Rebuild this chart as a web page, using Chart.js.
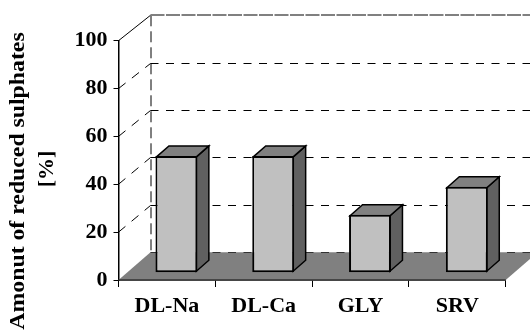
<!DOCTYPE html>
<html>
<head>
<meta charset="utf-8">
<style>
  html, body { margin: 0; padding: 0; background: #fff; }
  canvas { display: block; }
</style>
<script src="https://cdn.jsdelivr.net/npm/chart.js@4/dist/chart.umd.min.js"></script>
</head>
<body>
<canvas id="SulphateChart" width="530" height="331"></canvas>
<script>
const categories = ['DL-Na', 'DL-Ca', 'GLY', 'SRV'];
const reducedValues = [48.8, 48.8, 24.2, 35.9];
const yTicks = [0, 20, 40, 60, 80, 100];
const titleLines = ['Amonut of reduced sulphates', '[%]'];

const font = '"Liberation Serif", "Times New Roman", serif';

// wall depth and bar depth of the fake 3D box
const wallDx = 32, wallDy = -27.8, wallScale = 0.99;
const barDx = 12.5, barDy = -11;
const barShiftX = 9.5, barShiftY = -7.3;

function poly(ctx, pts, fill, stroke, lw) {
    ctx.beginPath();
    pts.forEach(function (p, i) { i ? ctx.lineTo(p[0], p[1]) : ctx.moveTo(p[0], p[1]); });
    ctx.closePath();
    if (fill) { ctx.fillStyle = fill; ctx.fill(); }
    if (stroke) { ctx.strokeStyle = stroke; ctx.lineWidth = lw; ctx.stroke(); }
}

const box3d = {
    id: 'box3d',
    beforeDatasetsDraw(chart) {
        const ctx = chart.ctx, a = chart.chartArea, y = chart.scales.y;
        const L = a.left, R = a.right, base = y.getPixelForValue(0);
        const backY = function (py) { return base + wallDy + (py - base) * wallScale; };
        const backX = L + wallDx;
        ctx.save();
        // back wall and side wall lines
        ctx.strokeStyle = '#000';
        ctx.lineWidth = 1;
        yTicks.forEach(function (v) {
            if (v === 0 || v === 100) return;
            const py = y.getPixelForValue(v), by = Math.round(backY(py)) + 0.5;
            ctx.setLineDash([8, 7.5]);
            ctx.beginPath();
            ctx.moveTo(backX, by);
            ctx.lineTo(R + wallDx, by);
            ctx.stroke();
            ctx.setLineDash([9, 8]);
            ctx.beginPath();
            ctx.moveTo(L, py);
            ctx.lineTo(backX, by);
            ctx.stroke();
        });
        const topFront = y.getPixelForValue(100), topBack = backY(topFront);
        ctx.setLineDash([11, 5]);
        ctx.beginPath();
        ctx.moveTo(backX + 0.5, topBack);
        ctx.lineTo(backX + 0.5, base + wallDy);
        ctx.stroke();
        ctx.setLineDash([]);
        ctx.beginPath();
        ctx.moveTo(L, topFront);
        ctx.lineTo(backX, topBack);
        ctx.stroke();
        // top edge of the back wall is a heavier grey dash
        ctx.strokeStyle = '#808080';
        ctx.lineWidth = 2;
        ctx.setLineDash([14, 1.5]);
        ctx.beginPath();
        ctx.moveTo(backX, Math.round(topBack));
        ctx.lineTo(R + wallDx, Math.round(topBack));
        ctx.stroke();
        ctx.setLineDash([]);
        // floor
        poly(ctx, [[L, base], [backX, base + wallDy], [R + wallDx, base + wallDy], [R, base]], '#808080', null);
        ctx.strokeStyle = '#333';
        ctx.lineWidth = 1;
        ctx.setLineDash([8, 7.5]);
        ctx.beginPath();
        ctx.moveTo(backX, Math.round(base + wallDy) + 0.5);
        ctx.lineTo(R + wallDx, Math.round(base + wallDy) + 0.5);
        ctx.stroke();
        ctx.setLineDash([]);
        ctx.lineWidth = 1.5;
        ctx.beginPath();
        ctx.moveTo(L, base);
        ctx.lineTo(R, base);
        ctx.stroke();
        // top and side faces of each bar, the library border sits inside the bar so step in 1px
        chart.getDatasetMeta(0).data.forEach(function (bar) {
            const x0 = bar.x - bar.width / 2 + barShiftX + 1, x1 = bar.x + bar.width / 2 + barShiftX - 1;
            const top = bar.y + barShiftY + 1, bot = bar.base + barShiftY - 1;
            poly(ctx, [[x1, top], [x1 + barDx, top + barDy], [x1 + barDx, bot + barDy], [x1, bot]], '#606060', '#000', 1.5);
            poly(ctx, [[x0, top], [x0 + barDx, top + barDy], [x1 + barDx, top + barDy], [x1, top]], '#808080', '#000', 1.5);
        });
        ctx.restore();
    },
    beforeDatasetDraw(chart) {
        chart.ctx.save();
        chart.ctx.translate(barShiftX, barShiftY);
    },
    afterDatasetDraw(chart) {
        chart.ctx.restore();
    },
    afterDraw(chart) {
        const ctx = chart.ctx;
        ctx.save();
        ctx.fillStyle = '#000';
        ctx.font = 'bold 22px ' + font;
        ctx.textAlign = 'center';
        ctx.textBaseline = 'alphabetic';
        ctx.translate(0, 181);
        ctx.rotate(-Math.PI / 2);
        ctx.fillText(titleLines[1], 12, 53);
        ctx.scale(1.08, 1);
        ctx.fillText(titleLines[0], 0, 24);
        ctx.restore();
    }
};

new Chart(document.getElementById('SulphateChart'), {
    type: 'bar',
    data: {
        labels: categories,
        datasets: [{
            label: 'Reduced sulphates',
            data: reducedValues,
            backgroundColor: '#c0c0c0',
            borderColor: '#000',
            borderWidth: 2,
            borderSkipped: false,
            barPercentage: 0.433,
            categoryPercentage: 1
        }]
    },
    options: {
        responsive: false,
        animation: false,
        layout: { padding: { top: 40.7, right: 24.3, left: 0, bottom: 0 } },
        plugins: { legend: { display: false }, title: { display: false }, tooltip: { enabled: false } },
        scales: {
            x: {
                afterFit(scale) { scale.height = 51; },
                border: { color: '#000', width: 1.5 },
                grid: { drawOnChartArea: false, color: '#000', tickLength: 7, lineWidth: 1 },
                ticks: { color: '#000', padding: 6, maxRotation: 0, font: { family: font, size: 22, weight: 'bold' } }
            },
            y: {
                min: 0,
                max: 100,
                afterFit(scale) { scale.width = 118.5; },
                afterBuildTicks(scale) { scale.ticks = yTicks.map(function (v) { return { value: v }; }); },
                border: { color: '#000', width: 1.5 },
                grid: { drawOnChartArea: false, color: '#000', tickLength: 5, lineWidth: 1 },
                ticks: { color: '#000', padding: 6, font: { family: font, size: 22, weight: 'bold' } }
            }
        }
    },
    plugins: [box3d]
});
</script>
</body>
</html>
